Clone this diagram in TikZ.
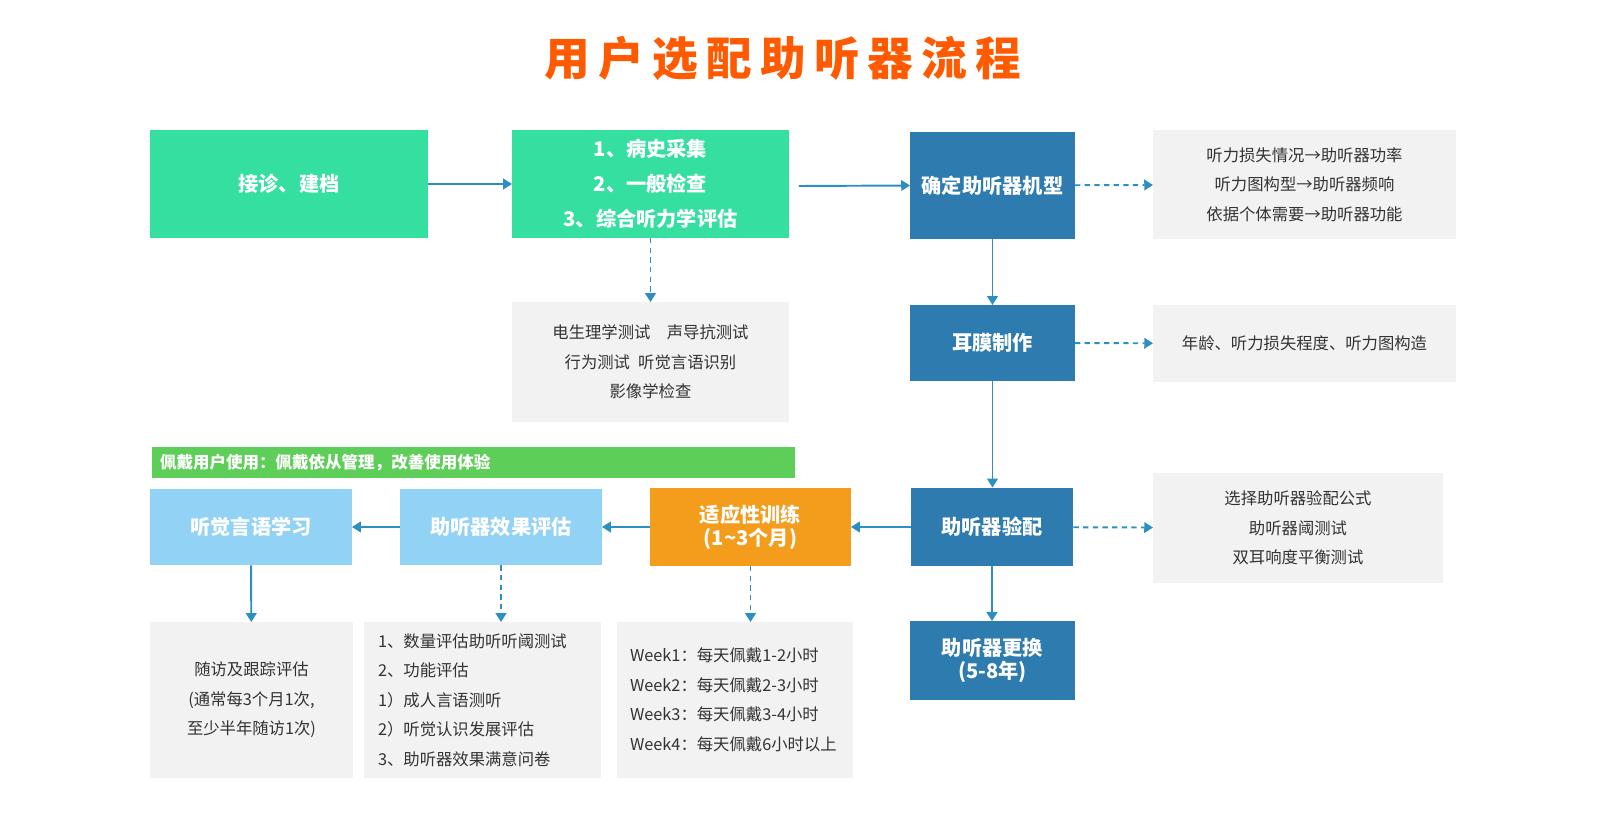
\documentclass[tikz,border=0pt]{standalone}
\usepackage{fontspec}
\setmainfont{Noto Sans CJK SC}
\newfontfamily\titlefont[LetterSpace=18]{Noto Sans CJK SC}
\usetikzlibrary{arrows.meta}
\definecolor{titleorange}{HTML}{FF5A00}
\definecolor{mint}{HTML}{35DFA0}
\definecolor{steelblue}{HTML}{2E7BB0}
\definecolor{skyblue}{HTML}{92D2F5}
\definecolor{amber}{HTML}{F49D1C}
\definecolor{leaf}{HTML}{5DCE58}
\definecolor{paper}{HTML}{F2F2F2}
\definecolor{flowblue}{HTML}{2B8FC2}
\definecolor{ink}{HTML}{333333}
\tikzset{
  stepbox/.style={inner sep=0pt, outer sep=0pt, align=center, text=white,
    font=\fontsize{11.5}{20}\selectfont\bfseries},
  greenbox/.style={stepbox, fill=mint},
  bluebox/.style={stepbox, fill=steelblue},
  lightbox/.style={stepbox, fill=skyblue},
  orangebox/.style={stepbox, fill=amber, font=\fontsize{11.5}{13}\selectfont\bfseries},
  notebox/.style={inner sep=0pt, outer sep=0pt, align=center, fill=paper, text=ink,
    font=\fontsize{9.3}{16.8}\selectfont},
  flow/.style={draw=flowblue, line width=1.1pt, -{Triangle[width=6pt,length=5pt]}},
  dashflow/.style={flow, dash pattern=on 3pt off 2.5pt}
}
\begin{document}
\begin{tikzpicture}[x=0.02cm,y=-0.02cm]
\useasboundingbox (0,0) rectangle (1600,824);
% Title
\node[text=titleorange, font=\fontsize{26}{30}\selectfont\bfseries] (title) at (783,58) {\titlefont\bfseries 用户选配助听器流程};
% Top row
\node[greenbox, minimum width=5.56cm, minimum height=2.16cm] (reception) at (289,184) {接诊、建档};
\node[greenbox, minimum width=5.54cm, minimum height=2.16cm] (history) at (650.5,184) {1、病史采集\\2、一般检查\\3、综合听力学评估};
\node[notebox, minimum width=5.54cm, minimum height=2.4cm] (tests) at (650.5,362) {电生理学测试\quad 声导抗测试\\行为测试\enspace 听觉言语识别\\影像学检查};
\node[bluebox, minimum width=3.3cm, minimum height=2.14cm] (model) at (992.5,185.5) {确定助听器机型};
\node[notebox, minimum width=6.06cm, minimum height=2.18cm] (modelnote) at (1304.5,184.5) {听力损失情况→助听器功率\\听力图构型→助听器频响\\依据个体需要→助听器功能};
% Ear mould
\node[bluebox, minimum width=3.3cm, minimum height=1.52cm] (mould) at (992.5,343) {耳膜制作};
\node[notebox, minimum width=6.06cm, minimum height=1.54cm] (mouldnote) at (1304.5,343.5) {年龄、听力损失程度、听力图构造};
% Fitting
\node[bluebox, minimum width=3.26cm, minimum height=1.58cm] (fitting) at (992,527) {助听器验配};
\node[notebox, minimum width=5.8cm, minimum height=2.2cm] (fittingnote) at (1298,528) {选择助听器验配公式\\助听器阈测试\\双耳响度平衡测试};
\node[bluebox, minimum width=3.3cm, minimum height=1.58cm, font=\fontsize{11.5}{13}\selectfont\bfseries] (replace) at (992.5,660.5) {助听器更换\\(5-8年)};
% Bottom row
\node[fill=leaf, inner sep=0pt, outer sep=0pt, text=white, align=left, minimum width=12.86cm, minimum height=0.62cm, text width=12.54cm, inner xsep=0.16cm, font=\fontsize{9.4}{12}\selectfont\bfseries] (wearing) at (473.5,462.5) {佩戴用户使用：佩戴依从管理，改善使用体验};
\node[orangebox, minimum width=4.02cm, minimum height=1.56cm] (training) at (750.5,527) {适应性训练\\(1\textasciitilde 3个月)};
\node[lightbox, minimum width=4.04cm, minimum height=1.54cm] (effect) at (501,527) {助听器效果评估};
\node[lightbox, minimum width=4.04cm, minimum height=1.54cm] (learning) at (251,527) {听觉言语学习};
\node[notebox, minimum width=4.06cm, minimum height=3.12cm] (followup) at (251.5,700) {随访及跟踪评估\\(通常每3个月1次,\\至少半年随访1次)};
\node[notebox, align=left, minimum width=4.74cm, minimum height=3.12cm, text width=4.18cm, inner xsep=0.28cm] (effectnote) at (482.5,700) {1、数量评估助听听阈测试\\2、功能评估\\1）成人言语测听\\2）听觉认识发展评估\\3、助听器效果满意问卷};
\node[notebox, align=left, minimum width=4.72cm, minimum height=3.12cm, text width=4.2cm, inner xsep=0.26cm] (schedule) at (735,700) {Week1：每天佩戴1-2小时\\Week2：每天佩戴2-3小时\\Week3：每天佩戴3-4小时\\Week4：每天佩戴6小时以上};
% Connectors
\draw[flow] (reception) -- (history);
\draw[flow] (history.east) ++(10,2) -- (model.west);
\draw[dashflow] (history) -- (tests);
\draw[dashflow] (model) -- (modelnote);
\draw[flow] (model) -- (mould);
\draw[dashflow] (mould) -- (mouldnote);
\draw[flow] (mould.south) -- (mould.south |- fitting.north);
\draw[dashflow] (fitting) -- (fittingnote);
\draw[flow] (fitting.south) -- (fitting.south |- replace.north);
\draw[flow] (fitting) -- (training);
\draw[flow] (training) -- (effect);
\draw[flow] (effect) -- (learning);
\draw[flow] (learning) -- (followup);
\draw[dashflow] (effect.south) -- (effect.south |- effectnote.north);
\draw[dashflow] (training.south) -- (training.south |- schedule.north);
\end{tikzpicture}
\end{document}
